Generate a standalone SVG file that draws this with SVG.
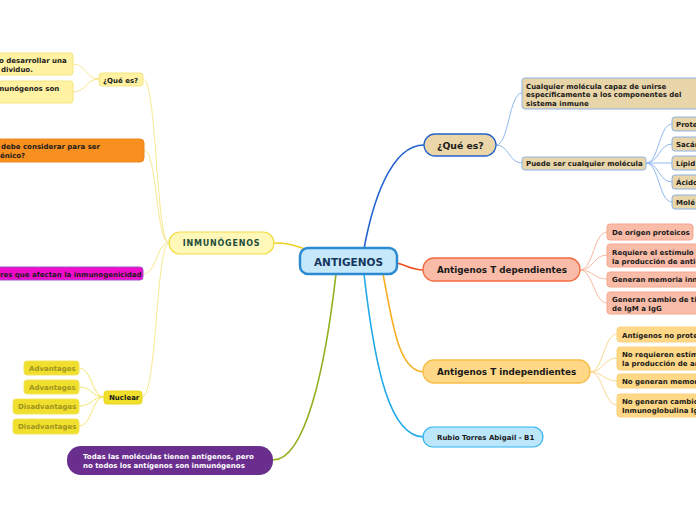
<svg xmlns="http://www.w3.org/2000/svg" width="696" height="520" viewBox="0 0 696 520">
<style>
text{font-family:"DejaVu Sans",Verdana,sans-serif;font-weight:bold;}
.s{font-size:7px;fill:#1a1a1a;}
.c{fill:none;}
.m{stroke-width:1.6;}
.t{stroke-width:1;}
</style>
<rect width="696" height="520" fill="#ffffff"/>
<g id="connectors" class="c">
<path class="m" stroke="#2060d0" d="M364,249 C372,205 390,145 424,145"/>
<path class="m" stroke="#f05020" d="M397,263 C408,266 412,270 424,270"/>
<path class="m" stroke="#f8b020" d="M383,274 C392,320 398,372 424,372"/>
<path class="m" stroke="#20a8e8" d="M364,274 C375,370 390,437 424,437"/>
<path class="m" stroke="#90b020" d="M336,274 C325,370 305,460 273,460"/>
<path class="m" stroke="#f0d020" d="M274,243 C290,243 296,246 305,249"/>
<g stroke="#f8e890" class="t">
<path d="M169,243 C156,243 157,79 143,79"/>
<path d="M169,243 C156,243 157,150 144,150"/>
<path d="M169,243 C156,243 157,274 143,274"/>
<path d="M169,243 C156,243 157,397 142,397"/>
<path d="M99,79 C86,79 86,64 73,64"/>
<path d="M99,79 C86,79 86,92 73,92"/>
</g>
<g stroke="#f5e670" class="t">
<path d="M104,397 C92,397 92,368 79,368"/>
<path d="M104,397 C92,397 92,387 79,387"/>
<path d="M104,397 C92,397 92,406 79,406"/>
<path d="M104,397 C92,397 92,426 79,426"/>
</g>
<g stroke="#90b8f0" class="t">
<path d="M496,145 C509,145 509,93 522,93"/>
<path d="M496,145 C509,145 509,163 522,163"/>
<path d="M646,163 C659,163 659,124 672,124"/>
<path d="M646,163 C659,163 659,144 672,144"/>
<path d="M646,163 C659,163 659,163 672,163"/>
<path d="M646,163 C659,163 659,182 672,182"/>
<path d="M646,163 C659,163 659,202 672,202"/>
</g>
<g stroke="#f8b8a0" class="t">
<path d="M580,270 C593,270 594,232 607,232"/>
<path d="M580,270 C593,270 594,255 607,255"/>
<path d="M580,270 C593,270 594,279 607,279"/>
<path d="M580,270 C593,270 594,303 607,303"/>
</g>
<g stroke="#f8d890" class="t">
<path d="M590,372 C603,372 604,334 617,334"/>
<path d="M590,372 C603,372 604,358 617,358"/>
<path d="M590,372 C603,372 604,381 617,381"/>
<path d="M590,372 C603,372 604,405 617,405"/>
</g>
</g>

<g id="antigenos">
<rect x="300" y="248" width="97" height="26" rx="8" fill="#c5e9fb" stroke="#2b8ad0" stroke-width="2.5"/>
<text x="348.5" y="266" text-anchor="middle" font-size="10.5" fill="#16365c">ANTIGENOS</text>
</g>
<g id="inmunogenos">
<rect x="169" y="232" width="105" height="22" rx="11" fill="#fff8b8" stroke="#f2dc44" stroke-width="1.2"/>
<text x="221.5" y="246" text-anchor="middle" font-size="8" letter-spacing="0.8" fill="#1e4d3c">INMUNÓGENOS</text>
</g>

<g id="quees-left">
<rect x="99" y="73" width="44" height="13" rx="3" fill="#fff2a2" stroke="#f5e580"/>
<text class="s" x="103" y="82.5">¿Qué es?</text>
</g>
<g id="left-def1">
<rect x="-10" y="53" width="83" height="22" rx="3" fill="#fff2a2" stroke="#f5e580"/>
<text class="s" x="-1" y="62.5">o desarrollar una</text>
<text class="s" x="1" y="71.5">dividuo.</text>
</g>
<g id="left-def2">
<rect x="-10" y="81" width="83" height="22" rx="3" fill="#fff2a2" stroke="#f5e580"/>
<text class="s" x="-3" y="90.5">munógenos son</text>
</g>
<g id="left-orange">
<rect x="-10" y="139" width="154" height="23" rx="4" fill="#f7901e" stroke="#f08a20"/>
<text class="s" x="1" y="148.5">debe considerar para ser</text>
<text class="s" x="0" y="157.5">énico?</text>
</g>
<g id="left-magenta">
<rect x="-10" y="267" width="153" height="13" rx="3" fill="#f00ccb" stroke="#9a50c8"/>
<text class="s" x="0" y="276.5">res que afectan la inmunogenicidad</text>
</g>
<g id="nuclear">
<rect x="104" y="391" width="38" height="13" rx="3" fill="#f0df2c" stroke="#e8d620"/>
<text class="s" x="109" y="400">Nuclear</text>
</g>
<g id="adv1">
<rect x="24" y="361" width="55" height="14" rx="3" fill="#f0df2c" stroke="#f3e460"/>
<text class="s" x="29" y="370.5" fill="#a09420" style="fill:#a09420">Advantages</text>
</g>
<g id="adv2">
<rect x="24" y="380" width="55" height="14" rx="3" fill="#f0df2c" stroke="#f3e460"/>
<text class="s" x="29" y="389.5" style="fill:#a09420">Advantages</text>
</g>
<g id="dis1">
<rect x="13" y="399" width="66" height="15" rx="3" fill="#f0df2c" stroke="#f3e460"/>
<text class="s" x="18" y="409" style="fill:#a09420">Disadvantages</text>
</g>
<g id="dis2">
<rect x="13" y="419" width="66" height="15" rx="3" fill="#f0df2c" stroke="#f3e460"/>
<text class="s" x="18" y="429" style="fill:#a09420">Disadvantages</text>
</g>
<g id="purple">
<rect x="67" y="446" width="206" height="29" rx="14" fill="#6a2e8e"/>
<text class="s" x="83" y="458.5" style="fill:#ffffff">Todas las moléculas tienen antígenos, pero</text>
<text class="s" x="83" y="467.5" style="fill:#ffffff">no todos los antígenos son inmunógenos</text>
</g>

<g id="quees-right">
<rect x="424" y="134" width="72" height="22" rx="11" fill="#ead6a8" stroke="#2563c8" stroke-width="1.3"/>
<text x="437" y="148.5" font-size="9.3" fill="#1a1a1a">¿Qué es?</text>
</g>
<g id="cualquier">
<rect x="522" y="78" width="190" height="31" rx="3" fill="#e8d5a9" stroke="#8fb3e6"/>
<text class="s" x="526" y="88.5">Cualquier molécula capaz de unirse</text>
<text class="s" x="526" y="97.2">específicamente a los componentes del</text>
<text class="s" x="526" y="105.9">sistema inmune</text>
</g>
<g id="puede">
<rect x="522" y="157" width="124" height="13" rx="3" fill="#e8d5a9" stroke="#8fb3e6"/>
<text class="s" x="526" y="166">Puede ser cualquier molécula</text>
</g>
<g id="prote">
<rect x="672" y="117" width="40" height="14" rx="3" fill="#e8d5a9" stroke="#8fb3e6"/>
<text class="s" x="676" y="126.5">Prote</text>
</g>
<g id="sacar">
<rect x="672" y="137" width="40" height="14" rx="3" fill="#e8d5a9" stroke="#8fb3e6"/>
<text class="s" x="676" y="146.5">Sacár</text>
</g>
<g id="lipid">
<rect x="672" y="156" width="40" height="14" rx="3" fill="#e8d5a9" stroke="#8fb3e6"/>
<text class="s" x="676" y="165.5">Lípid</text>
</g>
<g id="acido">
<rect x="672" y="175" width="40" height="14" rx="3" fill="#e8d5a9" stroke="#8fb3e6"/>
<text class="s" x="676" y="184.5">Ácido</text>
</g>
<g id="mole">
<rect x="672" y="195" width="40" height="14" rx="3" fill="#e8d5a9" stroke="#8fb3e6"/>
<text class="s" x="676" y="204.5">Molé</text>
</g>

<g id="tdep">
<rect x="423" y="258" width="157" height="23" rx="11" fill="#f8bca8" stroke="#f26a3f" stroke-width="1.3"/>
<text x="437" y="273" font-size="8.8" fill="#1a1a1a">Antigenos T dependientes</text>
</g>
<g id="tdep1">
<rect x="607" y="224" width="86" height="16" rx="3" fill="#f8bca8" stroke="#f5a88e"/>
<text class="s" x="612" y="234.5">De origen proteicos</text>
</g>
<g id="tdep2">
<rect x="607" y="244" width="100" height="23" rx="3" fill="#f8bca8" stroke="#f5a88e"/>
<text class="s" x="612" y="254.5">Requiere el estímulo d</text>
<text class="s" x="612" y="263.5">la producción de antic</text>
</g>
<g id="tdep3">
<rect x="607" y="272" width="100" height="15" rx="3" fill="#f8bca8" stroke="#f5a88e"/>
<text class="s" x="612" y="282">Generan memoria inn</text>
</g>
<g id="tdep4">
<rect x="607" y="292" width="100" height="22" rx="3" fill="#f8bca8" stroke="#f5a88e"/>
<text class="s" x="612" y="302">Generan cambio de ti</text>
<text class="s" x="612" y="310.5">de IgM a IgG</text>
</g>

<g id="tindep">
<rect x="423" y="360" width="167" height="23" rx="11" fill="#fed887" stroke="#f9bd48" stroke-width="1.3"/>
<text x="437" y="375" font-size="8.8" fill="#1a1a1a">Antigenos T independientes</text>
</g>
<g id="tind1">
<rect x="617" y="327" width="90" height="15" rx="3" fill="#fed887" stroke="#fbd17f"/>
<text class="s" x="622" y="337.5">Antígenos no prote</text>
</g>
<g id="tind2">
<rect x="617" y="347" width="90" height="23" rx="3" fill="#fed887" stroke="#fbd17f"/>
<text class="s" x="622" y="356.5">No requieren estím</text>
<text class="s" x="622" y="365.5">la producción de an</text>
</g>
<g id="tind3">
<rect x="617" y="374" width="90" height="14" rx="3" fill="#fed887" stroke="#fbd17f"/>
<text class="s" x="622" y="384">No generan memor</text>
</g>
<g id="tind4">
<rect x="617" y="394" width="90" height="23" rx="3" fill="#fed887" stroke="#fbd17f"/>
<text class="s" x="622" y="404">No generan cambio</text>
<text class="s" x="622" y="412.5">Inmunoglobulina Ig</text>
</g>

<g id="rubio">
<rect x="423" y="427" width="120" height="20" rx="10" fill="#bce7fb" stroke="#2eb2ef" stroke-width="1.2"/>
<text class="s" x="437" y="440">Rubio Torres Abigail - B1</text>
</g>
</svg>
